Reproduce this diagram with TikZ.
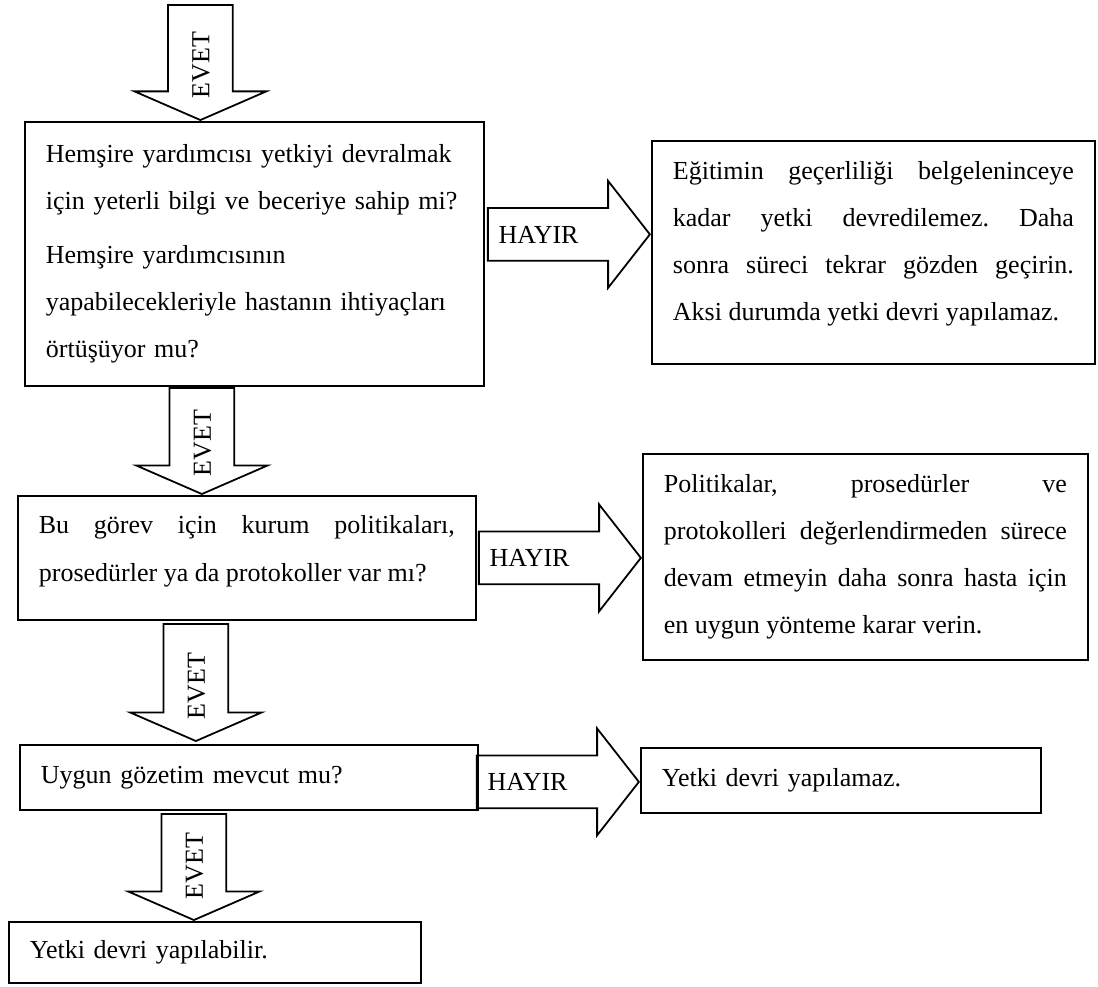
\documentclass[tikz,border=0pt]{standalone}
\usepackage{fontspec}
\setmainfont{Liberation Serif}
\usetikzlibrary{shapes.arrows,calc}

\tikzset{
  kutu/.style={draw, line width=0.8pt, inner xsep=9.45pt, inner ysep=0pt, anchor=north west,
    execute at begin node={\frenchspacing\tolerance=10000\hbadness=10000}},
  evet/.style={draw, line width=0.8pt, single arrow, rotate=90, shape border rotate=180,
    text height=8pt, text depth=0pt, inner xsep=1pt, inner ysep=10.2pt,
    single arrow head extend=15.05pt, single arrow tip angle=133, anchor=tip},
  hayir/.style={draw, line width=0.8pt, single arrow,
    text height=8pt, text depth=0pt, inner xsep=1pt, inner ysep=7.5pt,
    minimum height=72.9pt, single arrow head extend=12.15pt, single arrow tip angle=104, anchor=tip}
}

\begin{document}
\begin{tikzpicture}[x=0.45pt, y=-0.45pt, font=\fontsize{11.7}{21.2}\selectfont]
  \useasboundingbox (0,0) rectangle (1098,986);
  %
  \node[kutu, minimum width=206.55pt, minimum height=118.8pt, text width=187.65pt, align=left] (b1) at (24,121)
    {Hemşire yardımcısı yetkiyi devralmak\\ için yeterli bilgi ve beceriye sahip mi?\\[2.7pt] Hemşire yardımcısının\\ yapabilecekleriyle hastanın ihtiyaçları\\ örtüşüyor mu?};
  \node[kutu, minimum width=199.35pt, minimum height=100.35pt, text width=180.45pt, align=justify, text depth=74pt] (b2) at (651,140)
    {Eğitimin geçerliliği belgeleninceye \linebreak kadar yetki devredilemez. Daha \linebreak sonra süreci tekrar gözden geçirin. \linebreak Aksi durumda yetki devri yapılamaz.};
  \node[kutu, minimum width=206.1pt, minimum height=55.8pt, text width=187.2pt, align=justify, text depth=29.7pt] (b3) at (17,495)
    {Bu görev için kurum politikaları, \linebreak prosedürler ya da protokoller var mı?};
  \node[kutu, minimum width=200.25pt, minimum height=92.7pt, text width=181.35pt, align=justify] (b4) at (642,453)
    {Politikalar, prosedürler ve \linebreak protokolleri değerlendirmeden sürece \linebreak devam etmeyin daha sonra hasta için \linebreak en uygun yönteme karar verin.};
  \node[kutu, minimum width=206.1pt, minimum height=29.25pt, text width=187.2pt, align=left] (b5) at (19,744)
    {Uygun gözetim mevcut mu?};
  \node[kutu, minimum width=180pt, minimum height=29.25pt, text width=161.1pt, align=left] (b6) at (640,747)
    {Yetki devri yapılamaz.};
  \node[kutu, minimum width=185.4pt, minimum height=27.45pt, text width=166.5pt, align=left] (b7) at (8,921)
    {Yetki devri yapılabilir.};
  %
  \node[evet, minimum height=51.8pt] (e1) at ($(b1.north)+(-54,0)$) {\hspace*{-4.3pt}EVET\hspace*{4.3pt}};
  \node[evet, minimum height=47.7pt] (e2) at ($(b3.north)+(-45,0)$) {\hspace*{-4pt}EVET\hspace*{4pt}};
  \node[evet, minimum height=52.7pt] (e3) at ($(b5.north)+(-53,-2)$) {\hspace*{-4.8pt}EVET\hspace*{4.8pt}};
  \node[evet, minimum height=47.7pt] (e4) at ($(b7.north)+(-21,0)$) {\hspace*{-2.8pt}EVET\hspace*{2.8pt}};
  %
  \node[hayir] (h1) at ($(b2.west)+(0,-18)$) {\hspace*{-9pt}HAYIR\hspace*{9pt}};
  \node[hayir] (h2) at ($(b4.west)+(0,1)$) {\hspace*{-9pt}HAYIR\hspace*{9pt}};
  \node[hayir] (h3) at ($(b6.west)+(0,1.5)$) {\hspace*{-9pt}HAYIR\hspace*{9pt}};
\end{tikzpicture}
\end{document}
